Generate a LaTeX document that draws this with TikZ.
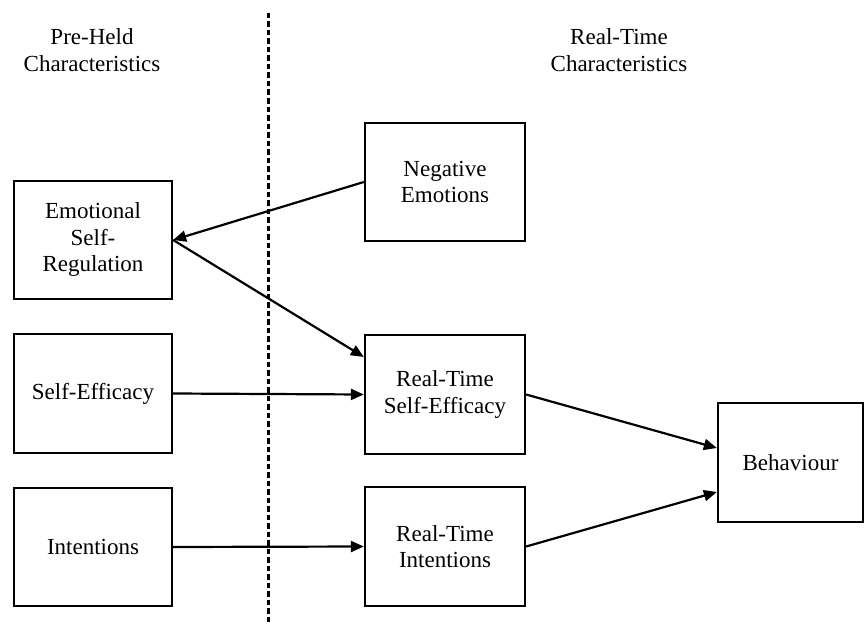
\documentclass[tikz,border=0pt]{standalone}
\usepackage{fontspec}
\setmainfont{Liberation Serif}
\usetikzlibrary{arrows.meta}
\begin{document}
\begin{tikzpicture}[x=1pt,y=-1pt,
  every node/.style={font=\fontsize{23}{26.5}\selectfont, align=center},
  box/.style={draw, line width=2.3pt, inner sep=0pt},
  link/.style={line width=2.2pt, -{Triangle[length=13pt,width=11pt]}},
  divider/.style={line width=3pt, dash pattern=on 5.5pt off 3pt}]
  \useasboundingbox (0,0) rectangle (865,626);

  % column headings
  \node (preheld) at (92,50) {Pre-Held\\Characteristics};
  \node (realtime) at (619,50) {Real-Time\\Characteristics};

  % divider between the two groups
  \coordinate (dtop) at (268,13);
  \coordinate (dbot) at (268,622);
  \draw[divider] (dtop) -- (dbot);

  % pre-held characteristics
  \node[box, minimum width=158pt, minimum height=118pt] (emo) at (93,240) {Emotional\\Self-\\Regulation};
  \node[box, minimum width=158pt, minimum height=119pt] (selfeff) at (93,393.5) {Self-Efficacy};
  \node[box, minimum width=158pt, minimum height=118pt] (inten) at (93,547) {Intentions};

  % real-time characteristics
  \node[box, minimum width=160pt, minimum height=118pt] (neg) at (445,182) {Negative\\Emotions};
  \node[box, minimum width=160pt, minimum height=119pt] (rtse) at (445,394.5) {Real-Time\\Self-Efficacy};
  \node[box, minimum width=160pt, minimum height=119pt] (rtint) at (445,546.5) {Real-Time\\Intentions};

  % outcome
  \node[box, minimum width=145pt, minimum height=119pt] (beh) at (790.5,462.5) {Behaviour};

  % paths
  \draw[link] (neg.west) -- (emo.east);
  \draw[link] (emo.east) -- ([yshift=37.5pt]rtse.west);
  \draw[link] (selfeff.east) -- (rtse.west);
  \draw[link] (inten.east) -- (rtint.west);
  \draw[link] (rtse.east) -- ([yshift=14.5pt]beh.west);
  \draw[link] (rtint.east) -- ([yshift=-29.5pt]beh.west);
\end{tikzpicture}
\end{document}
